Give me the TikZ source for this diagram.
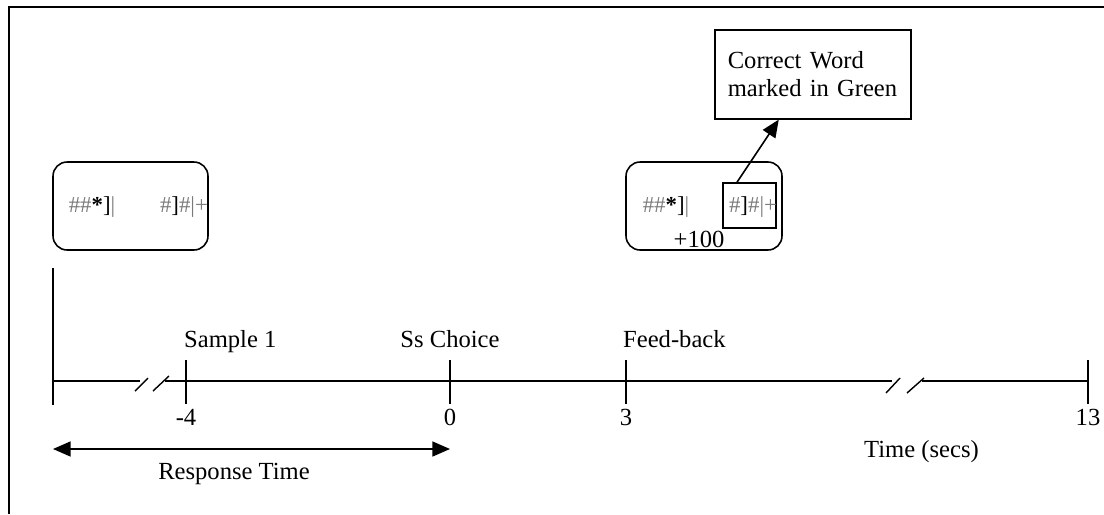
\documentclass[tikz,border=0pt]{standalone}
\usepackage{fontspec}
\setmainfont{Liberation Serif}
\usepackage{tikz}
\usetikzlibrary{arrows.meta, positioning, calc}
\definecolor{symgray}{HTML}{7A7A7A}
\newcommand{\wordleft}{{\color{symgray}\#\#}\textbf{*}]{\color{symgray}|}}
\newcommand{\wordright}{{\color{symgray}\#}]{\color{symgray}\#|+}}

\begin{document}
\begin{tikzpicture}[
  x=0.02cm, y=-0.02cm,
  every node/.style={font=\fontsize{14}{16}\selectfont},
  trial/.style={rectangle, rounded corners=8pt, draw, line width=0.9pt, minimum width=3.1cm, minimum height=1.76cm},
  sym/.style={font=\fontsize{13}{15}\selectfont, inner sep=0pt},
  target/.style={rectangle, draw, line width=0.9pt, minimum width=1.06cm, minimum height=0.9cm, inner sep=0pt},
  note/.style={rectangle, draw, line width=0.9pt, text width=3.4cm, inner xsep=0.26cm, minimum height=1.78cm, align=left},
  axis/.style={line width=0.8pt},
  arrow/.style={-{Triangle[length=10pt,width=8.5pt]}, line width=0.9pt}
]
  \useasboundingbox (0,0) rectangle (1104,514);
  \draw[line width=1.1pt] (1104,7) -- (9,7) -- (9,514);

  % stimulus at sample
  \node[trial] (stim1) at (130.5,206) {};
  \node[sym] (w1a) at (92,207) {\wordleft};
  \node[sym] (w1b) at (184,207) {\wordright};

  % stimulus at feed-back
  \node[trial, minimum width=3.12cm] (stim2) at (704,206) {};
  \node[sym] (w2a) at (666,207) {\wordleft};
  \node[target] (sq) at (749.5,205.5) {};
  \node[sym] (w2b) at (753,207) {\wordright};
  \node[anchor=base] (bonus) at (699,247) {+100};

  \node[note, anchor=north west] (note) at (714,29) {Correct Word\\marked in Green};
  \draw[arrow] ($(sq.north)+(-12.5,0)$) -- ($(note.south)+(-34,0)$);

  % time line
  \coordinate (t0) at (53,381);
  \draw[axis] (53,268) -- (53,405);
  \draw[axis] (t0) -- (140,381);
  \draw[axis] (165,381) -- (892,381);
  \draw[axis] (922,381) -- (1088,381);
  \draw[axis] (135,391) -- (148,378);
  \draw[axis] (153,391) -- (169,376);
  \draw[axis] (886,393) -- (900,378);
  \draw[axis] (907,393) -- (924,378);

  \foreach \name/\x/\num in {smp/186/-4, ch/450/0, fb/626/3, fin/1088/13} {
    \coordinate (\name) at (\x,381);
    \draw[axis] (\x,360) -- (\x,404);
    \node[anchor=base] (\name-num) at (\x,425) {\num};
  }

  \node[anchor=base west] (smp-lab) at (178,347) {Sample 1};
  \node[anchor=base] (ch-lab) at (450,347) {Ss Choice};
  \node[anchor=base west] (fb-lab) at (617,347) {Feed-back};
  \node[anchor=base west] (time-lab) at (858,457) {Time (secs)};

  % response time
  \coordinate (rtL) at (53,449);
  \coordinate (rtR) at (450,449);
  \draw[arrow, {Triangle[length=10pt,width=8.5pt]}-{Triangle[length=10pt,width=8.5pt]}] (rtL) -- (rtR);
  \node[anchor=base] (rt-lab) at (234,479) {Response Time};
\end{tikzpicture}
\end{document}
